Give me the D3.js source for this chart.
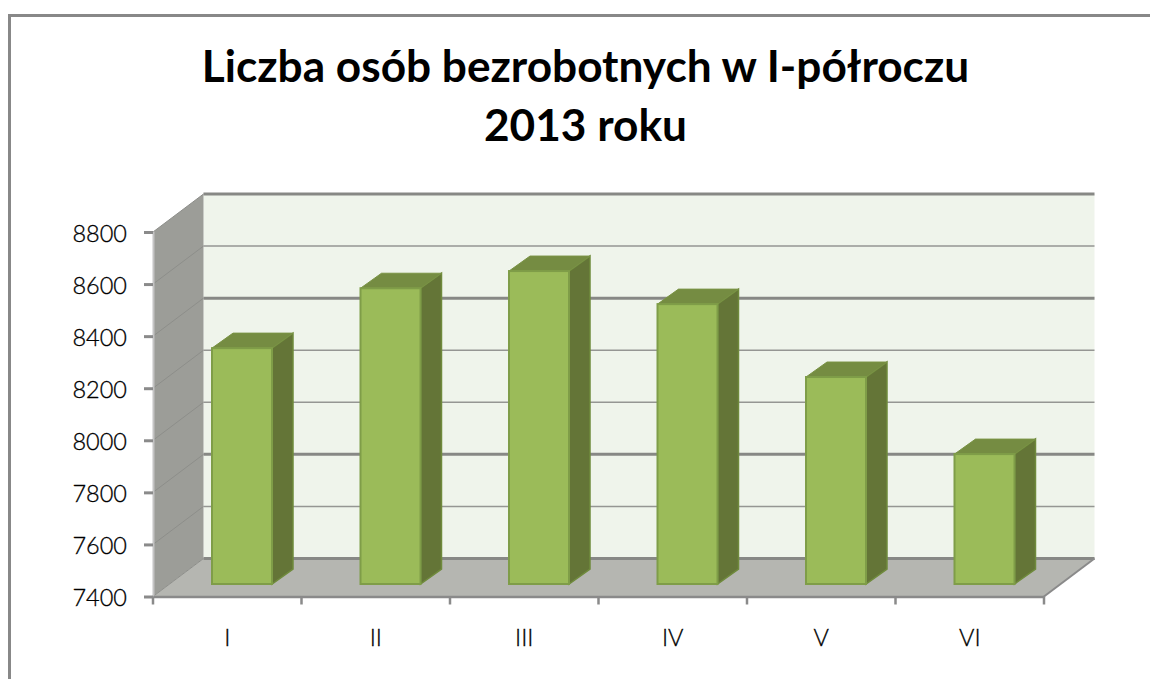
<!DOCTYPE html>
<html>
<head>
<meta charset="utf-8">
<script src="https://cdnjs.cloudflare.com/ajax/libs/d3/7.8.5/d3.min.js"></script>
<style>
  html, body { margin: 0; padding: 0; background: #fff; }
  svg { display: block; }
  text { font-family: Lato, "Open Sans", sans-serif; }
</style>
</head>
<body>
<div id="main"></div>
<script>
const categories = ["I", "II", "III", "IV", "V", "VI"];
const values = [8306, 8536, 8602, 8475, 8195, 7899];
const yTicks = [7400, 7600, 7800, 8000, 8200, 8400, 8600, 8800];
const heavyGrid = [7400, 7800, 8400, 8800];
const titleLines = ["Liczba osób bezrobotnych w I-półroczu", "2013 roku"];

const width = 1150;
const height = 679;

// front plane of the 3d box, the back wall is shifted by depth
const plot = { left: 153, right: 1044, top: 232, bottom: 596.5 };
const depth = { x: 50.5, y: -38 };
const bar = { width: 60, depthX: 21, depthY: -15, shiftX: 59, shiftY: -12.5 };

const svg = d3.select("#main").append("svg").attr("width", width).attr("height", height);

const xScale = d3.scaleBand().domain(categories).range([plot.left, plot.right]);
const yScale = d3.scaleLinear().domain([7400, 8800]).range([plot.bottom, plot.top]);

const poly = (pts) => d3.line()(pts) + "Z";

// chart frame
svg
  .append("path")
  .attr("d", `M9.5,679V15.5H1150`)
  .attr("fill", "none")
  .attr("stroke", "#888888")
  .attr("stroke-width", 3);

// title
svg
  .selectAll(".title")
  .data(titleLines)
  .enter()
  .append("text")
  .attr("class", "title")
  .attr("x", 585.5)
  .attr("y", (d, i) => 82 + i * 58.5)
  .attr("text-anchor", "middle")
  .attr("font-size", 44.2)
  .attr("font-weight", 700)
  .attr("fill", "#000")
  .text((d) => d);

// back wall
svg
  .append("rect")
  .attr("x", plot.left + depth.x)
  .attr("y", plot.top + depth.y)
  .attr("width", plot.right - plot.left)
  .attr("height", plot.bottom - plot.top)
  .attr("fill", "#eff4eb");

// side wall
svg
  .append("path")
  .attr(
    "d",
    poly([
      [plot.left, plot.top],
      [plot.left + depth.x, plot.top + depth.y],
      [plot.left + depth.x, plot.bottom + depth.y],
      [plot.left, plot.bottom],
    ])
  )
  .attr("fill", "#9c9d98");

// floor
svg
  .append("path")
  .attr(
    "d",
    poly([
      [plot.left, plot.bottom],
      [plot.left + depth.x, plot.bottom + depth.y],
      [plot.right + depth.x, plot.bottom + depth.y],
      [plot.right, plot.bottom],
    ])
  )
  .attr("fill", "#b5b6b1");

// gridlines on the side wall are faint
svg
  .selectAll(".grid-side")
  .data(yTicks)
  .enter()
  .append("line")
  .attr("class", "grid-side")
  .attr("x1", plot.left)
  .attr("y1", (d) => yScale(d))
  .attr("x2", plot.left + depth.x)
  .attr("y2", (d) => yScale(d) + depth.y)
  .attr("stroke", "#8d8e8a")
  .attr("stroke-width", 1);

// gridlines on the back wall, thickness changes in the reference
svg
  .selectAll(".grid")
  .data(yTicks)
  .enter()
  .append("line")
  .attr("class", "grid")
  .attr("x1", plot.left + depth.x)
  .attr("y1", (d) => yScale(d) + depth.y)
  .attr("x2", plot.right + depth.x)
  .attr("y2", (d) => yScale(d) + depth.y)
  .attr("stroke", (d) => (heavyGrid.includes(d) ? "#878885" : "#959693"))
  .attr("stroke-width", (d) => (heavyGrid.includes(d) ? 3 : 1.6));

// bars
const bars = svg
  .selectAll(".bar")
  .data(values)
  .enter()
  .append("g")
  .attr("class", "bar");

const barX = (i) => xScale(categories[i]) + bar.shiftX;
const barTop = (d) => yScale(d) + bar.shiftY;
const barBottom = yScale(7400) + bar.shiftY;

bars
  .append("path")
  .attr("d", (d, i) =>
    poly([
      [barX(i) + bar.width, barTop(d)],
      [barX(i) + bar.width + bar.depthX, barTop(d) + bar.depthY],
      [barX(i) + bar.width + bar.depthX, barBottom + bar.depthY],
      [barX(i) + bar.width, barBottom],
    ])
  )
  .attr("fill", "#647537")
  .attr("stroke", "#6f8a3c")
  .attr("stroke-width", 1.5);

bars
  .append("path")
  .attr("d", (d, i) =>
    poly([
      [barX(i), barTop(d)],
      [barX(i) + bar.depthX, barTop(d) + bar.depthY],
      [barX(i) + bar.width + bar.depthX, barTop(d) + bar.depthY],
      [barX(i) + bar.width, barTop(d)],
    ])
  )
  .attr("fill", "#758c42")
  .attr("stroke", "#7a9345")
  .attr("stroke-width", 1);

bars
  .append("rect")
  .attr("x", (d, i) => barX(i))
  .attr("y", (d) => barTop(d))
  .attr("width", bar.width)
  .attr("height", (d) => barBottom - barTop(d))
  .attr("fill", "#9bbb59")
  .attr("stroke", "#7f9d48")
  .attr("stroke-width", 2);

// axes
const yAxis = d3
  .axisLeft(yScale)
  .tickValues(yTicks)
  .tickFormat(d3.format("d"))
  .tickSize(9)
  .tickPadding(17);
const yG = svg
  .append("g")
  .attr("transform", `translate(${plot.left}, 0)`)
  .call(yAxis);
yG.select("path").attr("stroke", "#c4c4c4").attr("stroke-width", 2);
yG.selectAll("line").attr("stroke", "#8a8a8a").attr("stroke-width", 3);
yG.selectAll("text")
  .attr("font-family", "Lato")
  .attr("font-weight", 300)
  .attr("font-size", 23.5)
  .attr("dy", "0.4em")
  .attr("fill", "#000")
  .attr("stroke", "#000")
  .attr("stroke-width", 0.3);

const xAxis = d3.axisBottom(xScale).tickSize(0).tickPadding(33);
const xG = svg
  .append("g")
  .attr("transform", `translate(0, ${plot.bottom})`)
  .call(xAxis);
xG.select("path").attr("stroke", "#8a8a8a").attr("stroke-width", 2.5);
xG.selectAll("text")
  .attr("font-family", "Lato")
  .attr("font-weight", 300)
  .attr("font-size", 23.5)
  .attr("fill", "#000")
  .attr("stroke", "#000")
  .attr("stroke-width", 0.3);

// category ticks sit between the bands
xG.selectAll(".sep")
  .data(categories.concat([""]))
  .enter()
  .append("line")
  .attr("class", "sep")
  .attr("x1", (d, i) => plot.left + i * xScale.bandwidth())
  .attr("x2", (d, i) => plot.left + i * xScale.bandwidth())
  .attr("y1", 0)
  .attr("y2", 8)
  .attr("stroke", "#8a8a8a")
  .attr("stroke-width", 2.5);

// right edge of the floor
svg
  .append("line")
  .attr("x1", plot.right)
  .attr("y1", plot.bottom)
  .attr("x2", plot.right + depth.x)
  .attr("y2", plot.bottom + depth.y)
  .attr("stroke", "#8a8a8a")
  .attr("stroke-width", 2);
</script>
</body>
</html>
